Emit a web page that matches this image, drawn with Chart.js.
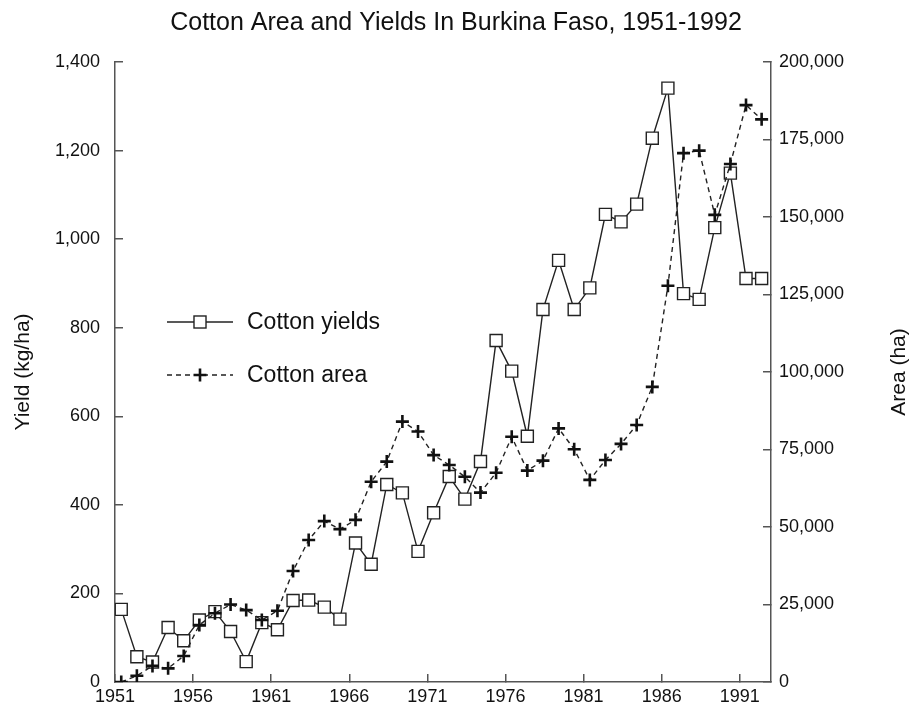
<!DOCTYPE html>
<html>
<head>
<meta charset="utf-8">
<script src="https://cdn.jsdelivr.net/npm/chart.js@4/dist/chart.umd.min.js"></script>
<style>
  html, body { margin: 0; padding: 0; background: #fff; }
  #wrap { width: 912px; height: 709px; }
</style>
</head>
<body>
<div id="wrap"><canvas id="c" width="912" height="709"></canvas></div>
<script>
const years = [1951,1952,1953,1954,1955,1956,1957,1958,1959,1960,
               1961,1962,1963,1964,1965,1966,1967,1968,1969,1970,
               1971,1972,1973,1974,1975,1976,1977,1978,1979,1980,
               1981,1982,1983,1984,1985,1986,1987,1988,1989,1990,
               1991,1992];

const cottonYields = [164,57,45,123,93,140,159,114,46,134,
                      118,184,185,169,142,314,266,446,427,295,
                      382,464,413,498,771,702,555,841,952,841,
                      890,1056,1039,1079,1228,1341,877,864,1026,1149,
                      911,911];

const cottonArea = [0,2000,5200,4400,8400,18400,22200,25000,23200,20000,
                    23000,35800,45800,51900,49300,52300,64600,71100,84000,80800,
                    73200,70000,66200,61100,67500,79100,68200,71400,81800,75100,
                    65200,71600,76800,82900,95200,127800,170600,171400,150700,167100,
                    186100,181500];

const xTickYears = [1951,1956,1961,1966,1971,1976,1981,1986,1991];
const titleText = 'Cotton Area and Yields In Burkina Faso, 1951-1992';
const yLeftTitle = 'Yield (kg/ha)';
const yRightTitle = 'Area (ha)';
const seriesNames = ['Cotton yields', 'Cotton area'];

const FONT = "'Liberation Sans', Arial, Helvetica, sans-serif";
const AXIS_COLOR = '#555';
const INK = '#111';
// the original plots each year's mark slightly to the right of its tick
const TICK_SHIFT = 0.4;

const yieldPts = years.map((y, i) => ({ x: y, y: cottonYields[i] }));
const areaPts = years.map((y, i) => ({ x: y, y: cottonArea[i] }));

const extras = {
  id: 'extras',
  afterDraw(chart) {
    const ctx = chart.ctx;
    const ca = chart.chartArea;
    const cy = (ca.top + ca.bottom) / 2;
    ctx.save();
    ctx.fillStyle = INK;
    ctx.font = '21px ' + FONT;
    ctx.textAlign = 'center';
    ctx.textBaseline = 'middle';
    // axis titles (both read bottom-to-top)
    ctx.save();
    ctx.translate(23, cy);
    ctx.rotate(-Math.PI / 2);
    ctx.fillText(yLeftTitle, 0, 0);
    ctx.restore();
    ctx.save();
    ctx.translate(899, cy);
    ctx.rotate(-Math.PI / 2);
    ctx.fillText(yRightTitle, 0, 0);
    ctx.restore();

    // legend inside plot
    const ds = chart.data.datasets;
    const lx0 = 167, lx1 = 233, mx = 200, tx = 247;
    const rows = [322, 375];
    ds.forEach((d, i) => {
      const yy = rows[i];
      ctx.save();
      ctx.strokeStyle = d.borderColor;
      ctx.lineWidth = d.borderWidth;
      ctx.setLineDash(d.borderDash || []);
      ctx.beginPath();
      ctx.moveTo(lx0, yy);
      ctx.lineTo(lx1, yy);
      ctx.stroke();
      ctx.setLineDash([]);
      if (d.pointStyle === 'rect') {
        const s = d.pointRadius * Math.SQRT1_2;
        ctx.fillStyle = d.pointBackgroundColor;
        ctx.strokeStyle = d.pointBorderColor;
        ctx.lineWidth = d.pointBorderWidth;
        ctx.fillRect(mx - s, yy - s, 2 * s, 2 * s);
        ctx.strokeRect(mx - s, yy - s, 2 * s, 2 * s);
      } else {
        const r = d.pointRadius;
        ctx.strokeStyle = d.pointBorderColor;
        ctx.lineWidth = d.pointBorderWidth;
        ctx.beginPath();
        ctx.moveTo(mx - r, yy); ctx.lineTo(mx + r, yy);
        ctx.moveTo(mx, yy - r); ctx.lineTo(mx, yy + r);
        ctx.stroke();
      }
      ctx.restore();
      ctx.fillStyle = INK;
      ctx.font = '23px ' + FONT;
      ctx.textAlign = 'left';
      ctx.textBaseline = 'middle';
      ctx.fillText(d.label, tx, yy + 1);
    });
    ctx.restore();
  }
};

function noVertPad(scale) {
  scale.paddingTop = 10;
  scale.paddingBottom = 10;
}

new Chart(document.getElementById('c'), {
  type: 'line',
  data: {
    datasets: [
      {
        label: seriesNames[0],
        data: yieldPts,
        yAxisID: 'y',
        order: 1,
        borderColor: '#222',
        borderWidth: 1.4,
        pointStyle: 'rect',
        pointRadius: 8.5,
        pointBackgroundColor: '#fff',
        pointBorderColor: '#222',
        pointBorderWidth: 1.4,
        tension: 0,
        fill: false
      },
      {
        label: seriesNames[1],
        data: areaPts,
        yAxisID: 'y2',
        order: 0,
        borderColor: '#222',
        borderWidth: 1.4,
        borderDash: [5, 4],
        pointStyle: 'cross',
        pointRadius: 6.5,
        pointBackgroundColor: '#111',
        pointBorderColor: '#111',
        pointBorderWidth: 2.6,
        tension: 0,
        fill: false
      }
    ]
  },
  options: {
    responsive: false,
    animation: false,
    devicePixelRatio: 1,
    layout: { padding: { left: 0, right: 0, top: 0, bottom: 0 } },
    plugins: {
      legend: { display: false },
      tooltip: { enabled: false },
      title: {
        display: true,
        text: titleText,
        color: INK,
        font: { family: FONT, size: 25, weight: 'normal' },
        padding: { top: 8, bottom: 24 }
      }
    },
    scales: {
      x: {
        type: 'linear',
        min: 1951 - TICK_SHIFT,
        max: 1992.6,
        afterBuildTicks(scale) {
          scale.ticks = xTickYears.map(v => ({ value: v - TICK_SHIFT }));
        },
        afterFit(scale) { scale.height = 27; },
        ticks: {
          color: INK,
          font: { family: FONT, size: 18 },
          padding: 12,
          maxRotation: 0,
          autoSkip: false,
          callback: (v) => String(Math.round(v + TICK_SHIFT))
        },
        grid: { drawOnChartArea: false, drawTicks: true, tickLength: -8, color: AXIS_COLOR, lineWidth: 1.5 },
        border: { display: true, color: AXIS_COLOR, width: 1.5 }
      },
      y: {
        position: 'left',
        min: 0,
        max: 1400,
        afterFit(scale) { scale.width = 115; noVertPad(scale); },
        ticks: {
          stepSize: 200,
          color: INK,
          font: { family: FONT, size: 18 },
          padding: 23
        },
        grid: { drawOnChartArea: false, drawTicks: true, tickLength: -8, color: AXIS_COLOR, lineWidth: 1.5 },
        border: { display: true, color: AXIS_COLOR, width: 1.5 }
      },
      y2: {
        position: 'right',
        min: 0,
        max: 200000,
        afterFit(scale) { scale.width = 141; noVertPad(scale); },
        ticks: {
          stepSize: 25000,
          color: INK,
          font: { family: FONT, size: 18 },
          padding: 16
        },
        grid: { drawOnChartArea: false, drawTicks: true, tickLength: -8, color: AXIS_COLOR, lineWidth: 1.5 },
        border: { display: true, color: AXIS_COLOR, width: 1.5 }
      }
    }
  },
  plugins: [extras]
});
</script>
</body>
</html>
